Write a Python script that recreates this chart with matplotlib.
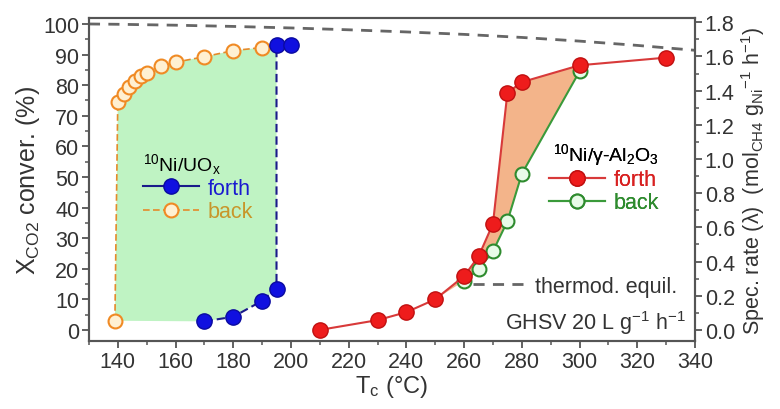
import matplotlib
matplotlib.use('Agg')
import matplotlib.pyplot as plt
from matplotlib.lines import Line2D
from matplotlib.ticker import MultipleLocator

plt.rcParams['font.family'] = ['Liberation Sans', 'DejaVu Sans']
plt.rcParams['mathtext.fontset'] = 'custom'
plt.rcParams['mathtext.rm'] = 'Liberation Sans'
plt.rcParams['mathtext.it'] = 'Liberation Sans:italic'

# 10Ni/UOx
uox_fw_T = [170, 180, 190, 195, 195, 200]
uox_fw_X = [2.8, 4.3, 9.5, 13.5, 93, 93]
uox_bk_T = [139, 140, 142, 144, 146, 148, 150, 155, 160, 170, 180, 190]
uox_bk_X = [3, 74.5, 77, 79.5, 81.5, 83, 84, 86.3, 87.5, 89.3, 91.3, 92.3]

# 10Ni/gamma-Al2O3
al_fw_T = [210, 230, 240, 250, 260, 265, 270, 275, 280, 300, 330]
al_fw_X = [0, 3.2, 5.8, 10, 17.6, 24, 34.7, 77.5, 81, 86.5, 89]
al_bk_T = [260, 265, 270, 275, 280, 300]
al_bk_X = [16, 19.8, 25.7, 35.5, 51, 84.5]

# thermodynamic equilibrium
teq_T = [130, 140, 160, 180, 200, 220, 240, 260, 280, 300, 320, 340]
teq_X = [100, 99.9, 99.6, 99.2, 98.7, 98.1, 97.4, 96.6, 95.6, 94.4, 93.0, 91.4]

spine_c = '#555555'
txt_c = '#333333'

fig = plt.figure(figsize=(7.8, 4.1), dpi=100)
ax = fig.add_axes([0.114, 0.166, 0.777, 0.788])

# shaded hysteresis areas
poly_T = uox_bk_T + uox_fw_T[::-1][1:] + [uox_bk_T[0]]
poly_X = uox_bk_X + uox_fw_X[::-1][1:] + [uox_bk_X[0]]
ax.fill(poly_T, poly_X, color='#bff3c3', lw=0, zorder=1)
poly2_T = al_fw_T[3:10] + al_bk_T[::-1]
poly2_X = al_fw_X[3:10] + al_bk_X[::-1]
ax.fill(poly2_T, poly2_X, color='#f3b48a', lw=0, zorder=1)

ax.plot(teq_T, teq_X, color='#666666', lw=2, dashes=(4, 3), zorder=2)

ax.plot(uox_bk_T, uox_bk_X, color='#e58a2a', lw=1.2, dashes=(4, 2),
        marker='o', ms=10, mfc='#fff0d2', mec='#f08a24', mew=1.5, zorder=3)
ax.plot(uox_fw_T, uox_fw_X, color='#1a1a8a', lw=1.5, dashes=(4, 2),
        marker='o', ms=11, mfc='#1010e0', mec='#0a0aa0', mew=1, zorder=4)
ax.plot(al_bk_T, al_bk_X, color='#3a9a3a', lw=1.5,
        marker='o', ms=10, mfc='#e8fbe8', mec='#2e8b2e', mew=1.5, zorder=3)
ax.plot(al_fw_T, al_fw_X, color='#d83a3a', lw=1.5,
        marker='o', ms=11, mfc='#ee1c1c', mec='#c01010', mew=1, zorder=4)

ax.set_xlim(130, 340)
ax.set_ylim(-3.6, 102)
ax.xaxis.set_major_locator(MultipleLocator(20))
ax.xaxis.set_minor_locator(MultipleLocator(10))
ax.yaxis.set_major_locator(MultipleLocator(10))
ax.yaxis.set_minor_locator(MultipleLocator(5))

ax2 = ax.twinx()
ax2.set_ylim(-3.6 * 0.0179, 102 * 0.0179)
ax2.yaxis.set_minor_locator(MultipleLocator(0.1))
ax2.set_yticks([0.0, 0.2, 0.4, 0.6, 0.8, 1.0, 1.2, 1.4, 1.6, 1.8])
ax2.set_yticklabels(['0.0', '0.2', '0.4', '0.6', '0.8', '1.0', '1.2', '1.4', '1.6', '1.8'])

for a in (ax, ax2):
    for s in a.spines.values():
        s.set_color(spine_c)
        s.set_linewidth(1.5)
    a.tick_params(which='major', direction='out', length=5, width=1.3,
                  color=spine_c, labelcolor=txt_c, labelsize=15.5, pad=2)
    a.tick_params(which='minor', direction='out', length=3, width=1.1, color=spine_c)

ax.set_xlabel(r'T$_\mathrm{c}$ (°C)', fontsize=17, color=txt_c, labelpad=1)
ax.set_ylabel(r'X$_\mathrm{CO2}$ conver. (%)', fontsize=18, color=txt_c, labelpad=1)
ax2.set_ylabel(r'Spec. rate ($\mathrm{\lambda}$)  (mol$_\mathrm{CH4}$ g$_\mathrm{Ni}$$^{-1}$ h$^{-1}$)',
               fontsize=15.5, color=txt_c, labelpad=3)

h1 = [Line2D([], [], color='#1a1a8a', lw=1.5, marker='o', ms=11, mfc='#1010e0', mec='#0a0aa0'),
      Line2D([], [], color='#e58a2a', lw=1.2, dashes=(4, 2), marker='o', ms=10,
             mfc='#fff0d2', mec='#f08a24', mew=1.5)]
leg1 = ax.legend(h1, ['forth', 'back'], title=r'$^{10}$Ni/UO$_\mathrm{x}$', loc='upper left',
                 bbox_to_anchor=(0.075, 0.615), frameon=False, fontsize=15.5,
                 title_fontsize=14, labelcolor=['#1a1ad0', '#c8962a'],
                 handlelength=2.6, handletextpad=0.4, labelspacing=0.1,
                 borderaxespad=0)
leg1._legend_box.align = 'left'
ax.add_artist(leg1)

h2 = [Line2D([], [], color='#d83a3a', lw=1.5, marker='o', ms=11, mfc='#ee1c1c', mec='#c01010'),
      Line2D([], [], color='#3a9a3a', lw=1.5, marker='o', ms=10, mfc='#e8fbe8',
             mec='#2e8b2e', mew=1.5)]
leg2 = ax.legend(h2, ['forth', 'back'], title=r'$^{10}$Ni/γ-Al$_2$O$_3$', loc='upper right',
                 bbox_to_anchor=(0.955, 0.645), frameon=False, fontsize=15.5,
                 title_fontsize=14, labelcolor=['#d82020', '#2e8b2e'],
                 handlelength=2.6, handletextpad=0.4, labelspacing=0.1,
                 borderaxespad=0)
leg2._legend_box.align = 'right'
ax.add_artist(leg2)

h3 = [Line2D([], [], color='#666666', lw=2, dashes=(4, 3))]
ax2.legend(h3, ['thermod. equil.'], loc='lower right', bbox_to_anchor=(0.985, 0.11),
           frameon=False, fontsize=15.5, labelcolor=txt_c, handlelength=2.4,
           handletextpad=0.5, borderaxespad=0)

ax.text(0.985, 0.015, r'GHSV 20 L g$^{-1}$ h$^{-1}$', transform=ax.transAxes,
        ha='right', va='bottom', fontsize=15.5, color=txt_c)

fig.savefig('out.png', dpi=100)
